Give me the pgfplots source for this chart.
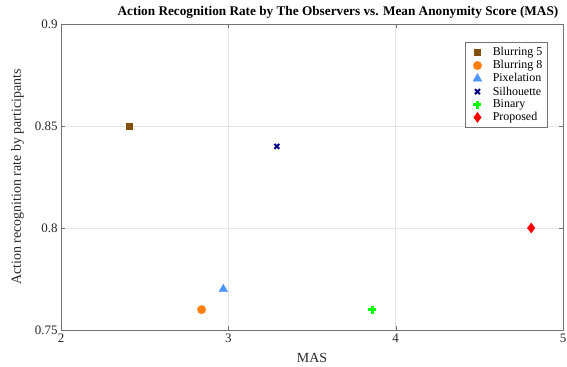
\documentclass[border=0pt]{standalone}
\usepackage{fontspec}
\setmainfont{Liberation Serif}
\usepackage{pgfplots}
\pgfplotsset{compat=1.18}
\usetikzlibrary{calc}
\definecolor{cB5}{RGB}{130,80,10}
\definecolor{cB8}{RGB}{255,127,14}
\definecolor{cPix}{RGB}{77,150,255}
\definecolor{cSil}{RGB}{0,0,128}
\definecolor{cBin}{RGB}{0,255,0}
\definecolor{cPro}{RGB}{255,0,0}
\begin{document}
\begin{tikzpicture}
\begin{axis}[name=ax,
  scale only axis, width=502bp, height=306bp,
  xmin=2, xmax=5, ymin=0.75, ymax=0.9,
  xtick={2,3,4,5}, ytick={0.75,0.8,0.85,0.9},
  yticklabels={0.75,0.8,0.85,0.9},
  /pgf/number format/assume math mode=true,
  tick label style={font=\fontsize{13}{15}\selectfont, text=black!85},
  grid=major, major grid style={black!10},
  tick align=inside, tick style={black!55},
  axis line style={black!55},
  xlabel={MAS}, ylabel={Action recognition rate by participants},
  label style={font=\fontsize{14}{16}\selectfont, text=black!85},
  xlabel style={yshift=-4bp},
  ylabel style={yshift=4bp},
  title={\textbf{Action Recognition Rate by The Observers vs. Mean Anonymity Score (MAS)}},
  title style={font=\fontsize{13.3}{15}\selectfont, yshift=-4bp, xshift=26bp},
  legend style={at={(0.969,0.94)}, anchor=north east, draw=black!55,
    font=\fontsize{12}{14}\selectfont, row sep=-0.7bp, inner sep=3bp},
  legend cell align=left,
  legend image code/.code={\path (-8bp,0) (12bp,0); \draw plot coordinates {(0bp,0bp)};},
]
\addplot[only marks, mark=square*, mark size=3bp, color=cB5] coordinates {(2.41,0.85)};
\addlegendentry{Blurring 5}
\addplot[only marks, mark=*, mark size=4.2bp, color=cB8] coordinates {(2.84,0.76)};
\addlegendentry{Blurring 8}
\addplot[only marks, mark=triangle*, mark size=5bp, color=cPix] coordinates {(2.97,0.77)};
\addlegendentry{Pixelation}
\addplot[only marks, mark=x, mark size=3.5bp, line width=2bp, color=cSil] coordinates {(3.29,0.84)};
\addlegendentry{Silhouette}
\addplot[only marks, mark=+, mark size=4bp, line width=2.6bp, color=cBin] coordinates {(3.86,0.76)};
\addlegendentry{Binary}
\addplot[only marks, mark=diamond*, mark size=5bp, color=cPro] coordinates {(4.81,0.80)};
\addlegendentry{Proposed}
\end{axis}
\pgfresetboundingbox
\path ($(ax.south west)+(-61bp,-37bp)$) rectangle ($(ax.north east)+(4bp,24bp)$);
\end{tikzpicture}
\end{document}
